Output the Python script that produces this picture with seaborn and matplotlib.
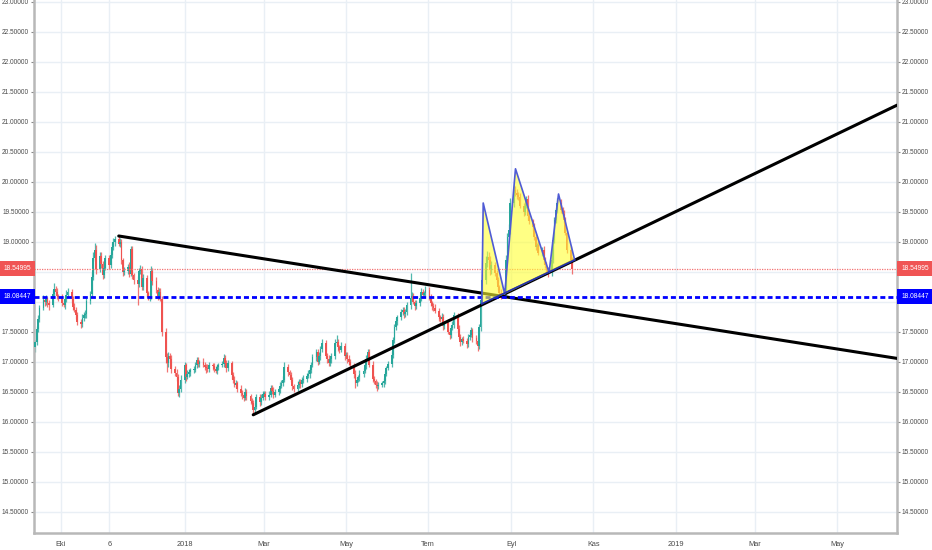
import pandas as pd
import numpy as np
import matplotlib
matplotlib.use('Agg')
import matplotlib.pyplot as plt
import matplotlib.dates as mdates
import matplotlib.transforms as mtransforms
import seaborn as sns

# daily closes, one list per month (weekdays)
closes_sep17 = [17.33, 17.55, 17.72, 17.90, 18.03, 18.00, 18.05, 17.98, 17.95, 18.13, 18.22, 18.17, 18.10, 18.08]
closes_oct17 = [17.98, 17.95, 18.05, 18.12, 18.17, 18.05, 17.92, 17.87, 17.78, 17.67, 17.63, 17.74, 17.78, 17.80,
                18.02, 18.13, 18.42, 18.73, 18.87, 18.55, 18.77, 18.63]
closes_nov17 = [18.45, 18.57, 18.73, 18.62, 18.78, 18.92, 19.00, 19.05, 18.97, 19.00, 18.70, 18.50, 18.52, 18.58,
                18.47, 18.88, 18.45, 18.37, 18.30, 18.52, 18.55, 18.25]
closes_dec17 = [18.40, 18.15, 18.08, 18.10, 18.52, 18.35, 18.20, 18.10, 18.17, 18.05, 17.50, 17.08, 16.98, 17.10,
                17.05, 16.88, 16.82, 16.75, 16.48, 16.55, 16.70]
closes_jan18 = [16.95, 16.75, 16.80, 16.83, 16.86, 16.87, 16.95, 17.03, 16.97, 17.00, 16.95, 16.92, 16.90, 16.88,
                16.95, 16.93, 16.88, 16.85, 16.92, 16.95, 16.97, 17.07, 16.98]
closes_feb18 = [16.90, 16.98, 16.78, 16.70, 16.62, 16.65, 16.55, 16.48, 16.45, 16.40, 16.50, 16.43, 16.35, 16.32,
                16.20, 16.25, 16.42, 16.33, 16.40, 16.47]
closes_mar18 = [16.47, 16.42, 16.45, 16.57, 16.52, 16.45, 16.50, 16.55, 16.60, 16.65, 16.70, 16.92, 16.83, 16.78,
                16.70, 16.60, 16.55, 16.62, 16.67, 16.63, 16.70, 16.72]
closes_apr18 = [16.77, 16.80, 16.87, 16.95, 17.08, 17.17, 17.00, 17.10, 17.22, 17.32, 17.10, 17.05, 16.98, 17.05,
                17.10, 17.32, 17.33, 17.25, 17.20, 17.27, 17.10]
closes_may18 = [17.12, 17.05, 17.00, 16.95, 16.80, 16.65, 16.70, 16.75, 16.80, 16.85, 16.95, 17.05, 17.17, 16.95,
                16.72, 16.68, 16.62, 16.60, 16.62, 16.65, 16.68, 16.80, 16.90]
closes_jun18 = [16.97, 17.12, 17.37, 17.58, 17.68, 17.75, 17.83, 17.87, 17.80, 17.83, 17.95, 18.07, 18.10, 18.00,
                17.93, 17.98, 18.07, 18.17, 18.12, 18.15, 18.20]
closes_jul18 = [18.08, 17.98, 17.93, 17.90, 17.85, 17.75, 17.72, 17.75, 17.60, 17.65, 17.50, 17.45, 17.57, 17.62,
                17.78, 17.55, 17.42, 17.33, 17.38, 17.35, 17.30, 17.42]
closes_aug18 = [17.45, 17.53, 17.40, 17.35, 17.27, 17.58, 18.03, 18.37, 18.65, 18.75, 18.70, 18.53, 18.62, 18.48,
                18.37, 18.25, 18.15, 18.12, 18.18, 18.70, 19.08, 19.20, 19.65]
closes_sep18 = [19.87, 19.82, 19.78, 19.75, 19.60, 19.50, 19.60, 19.72, 19.43, 19.35, 19.25, 19.08, 18.92, 18.95,
                18.82, 18.87, 18.70, 18.62, 18.53, 18.50]
closes_oct18 = [18.70, 19.03, 19.37, 19.53, 19.65, 19.53, 19.47, 19.37, 19.15, 18.87, 18.70, 18.55]

# wick lengths above / below the body
upper_wicks = [0.04, 0.05, 0.06, 0.05, 0.08, 0.05, 0.06, 0.04, 0.05, 0.07, 0.10, 0.05, 0.06, 0.04,
               0.05, 0.06, 0.05, 0.08, 0.06, 0.04, 0.05, 0.06, 0.04, 0.05, 0.04, 0.06, 0.05, 0.07, 0.05, 0.06, 0.08, 0.10, 0.12, 0.08, 0.06, 0.07,
               0.05, 0.06, 0.05, 0.06, 0.05, 0.07, 0.06, 0.05, 0.07, 0.06, 0.05, 0.04, 0.06, 0.05, 0.08, 0.06, 0.05, 0.04, 0.06, 0.05, 0.06, 0.05,
               0.06, 0.05, 0.04, 0.06, 0.08, 0.05, 0.06, 0.05, 0.06, 0.07, 0.05, 0.06, 0.07, 0.06, 0.05, 0.06, 0.05, 0.06, 0.05, 0.07, 0.08,
               0.05, 0.04, 0.06, 0.05, 0.04, 0.06, 0.05, 0.06, 0.05, 0.04, 0.06, 0.05, 0.04, 0.06, 0.05, 0.04, 0.05, 0.06, 0.05, 0.04, 0.05, 0.06, 0.04,
               0.05, 0.06, 0.04, 0.05, 0.06, 0.05, 0.04, 0.06, 0.05, 0.04, 0.06, 0.05, 0.04, 0.05, 0.04, 0.06, 0.05, 0.04, 0.06, 0.05,
               0.05, 0.04, 0.06, 0.05, 0.04, 0.06, 0.05, 0.04, 0.06, 0.05, 0.06, 0.08, 0.05, 0.04, 0.06, 0.05, 0.04, 0.06, 0.05, 0.04, 0.05, 0.06,
               0.05, 0.06, 0.04, 0.05, 0.06, 0.05, 0.04, 0.06, 0.05, 0.06, 0.04, 0.05, 0.06, 0.04, 0.05, 0.06, 0.12, 0.05, 0.04, 0.06, 0.05,
               0.05, 0.04, 0.06, 0.05, 0.04, 0.06, 0.05, 0.04, 0.06, 0.05, 0.04, 0.06, 0.05, 0.04, 0.06, 0.05, 0.04, 0.06, 0.05, 0.04, 0.06, 0.05, 0.04,
               0.05, 0.06, 0.05, 0.06, 0.05, 0.04, 0.06, 0.05, 0.04, 0.06, 0.05, 0.41, 0.06, 0.05, 0.04, 0.06, 0.05, 0.06, 0.05, 0.04, 0.06,
               0.05, 0.06, 0.04, 0.05, 0.06, 0.05, 0.04, 0.06, 0.05, 0.04, 0.06, 0.05, 0.04, 0.06, 0.05, 0.04, 0.06, 0.05, 0.04, 0.06, 0.05, 0.04,
               0.05, 0.06, 0.04, 0.05, 0.06, 0.05, 0.08, 0.10, 0.12, 0.10, 0.08, 0.06, 0.07, 0.05, 0.06, 0.05, 0.04, 0.06, 0.05, 0.08, 0.07, 0.10, 0.08,
               0.08, 0.06, 0.07, 0.05, 0.06, 0.05, 0.06, 0.05, 0.06, 0.05, 0.04, 0.06, 0.05, 0.04, 0.06, 0.05, 0.06, 0.05, 0.04, 0.05,
               0.05, 0.06, 0.05, 0.06, 0.08, 0.06, 0.05, 0.06, 0.05, 0.04, 0.06, 0.05]
lower_wicks = [0.08, 0.04, 0.05, 0.06, 0.04, 0.07, 0.05, 0.06, 0.08, 0.04, 0.05, 0.06, 0.05, 0.07,
               0.05, 0.04, 0.07, 0.05, 0.04, 0.06, 0.05, 0.04, 0.06, 0.05, 0.06, 0.04, 0.05, 0.04, 0.06, 0.05, 0.04, 0.06, 0.05, 0.08, 0.05, 0.06,
               0.06, 0.05, 0.04, 0.07, 0.05, 0.04, 0.05, 0.06, 0.04, 0.05, 0.06, 0.07, 0.05, 0.06, 0.05, 0.04, 0.06, 0.07, 0.35, 0.05, 0.06, 0.05,
               0.05, 0.06, 0.05, 0.07, 0.05, 0.06, 0.05, 0.06, 0.05, 0.04, 0.06, 0.10, 0.15, 0.06, 0.05, 0.07, 0.05, 0.06, 0.05, 0.06, 0.05,
               0.05, 0.06, 0.04, 0.05, 0.06, 0.05, 0.04, 0.05, 0.06, 0.05, 0.04, 0.06, 0.08, 0.05, 0.04, 0.06, 0.05, 0.04, 0.05, 0.06, 0.04, 0.05, 0.06,
               0.06, 0.05, 0.06, 0.05, 0.04, 0.06, 0.05, 0.04, 0.06, 0.05, 0.04, 0.06, 0.05, 0.06, 0.08, 0.05, 0.04, 0.06, 0.05, 0.04,
               0.04, 0.06, 0.05, 0.04, 0.06, 0.05, 0.04, 0.05, 0.06, 0.04, 0.05, 0.04, 0.06, 0.05, 0.04, 0.06, 0.05, 0.04, 0.05, 0.06, 0.04, 0.05,
               0.05, 0.04, 0.06, 0.05, 0.04, 0.06, 0.05, 0.04, 0.06, 0.05, 0.04, 0.06, 0.05, 0.04, 0.06, 0.05, 0.04, 0.06, 0.05, 0.04, 0.06,
               0.04, 0.06, 0.05, 0.04, 0.06, 0.08, 0.05, 0.04, 0.06, 0.05, 0.04, 0.06, 0.05, 0.04, 0.06, 0.05, 0.06, 0.08, 0.05, 0.04, 0.06, 0.05, 0.04,
               0.04, 0.05, 0.06, 0.05, 0.04, 0.06, 0.05, 0.04, 0.06, 0.05, 0.04, 0.06, 0.05, 0.04, 0.06, 0.05, 0.04, 0.06, 0.05, 0.04, 0.05,
               0.05, 0.04, 0.06, 0.05, 0.04, 0.06, 0.05, 0.04, 0.06, 0.05, 0.04, 0.06, 0.05, 0.04, 0.06, 0.05, 0.04, 0.06, 0.05, 0.04, 0.06, 0.05,
               0.05, 0.04, 0.06, 0.05, 0.09, 0.05, 0.06, 0.08, 0.07, 0.06, 0.05, 0.08, 0.06, 0.05, 0.06, 0.05, 0.06, 0.07, 0.05, 0.06, 0.05, 0.08, 0.06,
               0.06, 0.05, 0.06, 0.05, 0.04, 0.06, 0.05, 0.04, 0.06, 0.05, 0.06, 0.04, 0.05, 0.06, 0.04, 0.05, 0.06, 0.05, 0.06, 0.08,
               0.06, 0.05, 0.04, 0.06, 0.05, 0.04, 0.06, 0.05, 0.04, 0.06, 0.05, 0.08]
first_open = 17.25

# drawn objects on the chart
trend_down = (['2017-11-13', '2019-06-14 16:00'], [19.10, 17.06])
trend_up = (['2018-02-21', '2019-06-14 16:00'], [16.12, 21.28])
pattern_dates = ['2018-08-10', '2018-08-11', '2018-08-27', '2018-09-04', '2018-09-29', '2018-10-06', '2018-10-18']
pattern_prices = [17.97, 19.65, 18.13, 20.22, 18.49, 19.80, 18.70]
last_price = 18.54995
blue_level = 18.08447

tick_dates = ['2017-10-01', '2017-11-06', '2018-01-01', '2018-03-01', '2018-05-01', '2018-07-01',
              '2018-09-01', '2018-11-01', '2019-01-01', '2019-03-01', '2019-05-01']
tick_labels = ['Eki', '6', '2018', 'Mar', 'May', 'Tem', 'Eyl', 'Kas', '2019', 'Mar', 'May']

sns.set_style('white')
plt.rcParams['font.family'] = ['Liberation Sans', 'DejaVu Sans']


def to_num(ds):
    return np.array([mdates.date2num(pd.Timestamp(d).to_pydatetime()) for d in ds])


closes = np.array(closes_sep17 + closes_oct17 + closes_nov17 + closes_dec17 + closes_jan18 + closes_feb18
                  + closes_mar18 + closes_apr18 + closes_may18 + closes_jun18 + closes_jul18 + closes_aug18
                  + closes_sep18 + closes_oct18)
dates = pd.bdate_range('2017-09-12', periods=len(closes))
x = to_num(dates)
opens = np.concatenate([[first_open], closes[:-1]])
n = len(closes)
up_w = np.array((upper_wicks + [0.05] * n)[:n])
dn_w = np.array((lower_wicks + [0.05] * n)[:n])
highs = np.maximum(opens, closes) + up_w
lows = np.minimum(opens, closes) - dn_w
colors = np.where(closes >= opens, '#26a69a', '#ef5350')
body = closes - opens
body = np.where(np.abs(body) < 0.015, 0.015, body)

fig = plt.figure(figsize=(9.32, 5.5), dpi=100)
ax = fig.add_axes([34 / 932, 17 / 550, 863 / 932, 533 / 550])

ax.vlines(x, lows, highs, colors=colors, lw=0.9, alpha=0.8, zorder=2)
ax.bar(x, body, bottom=opens, width=1.3, color=colors, lw=0, zorder=3)

# horizontal levels
ax.axhline(last_price, color='#f47272', lw=0.9, ls=(0, (1, 1)), zorder=4)
ax.axhline(blue_level, color='#0000ff', lw=2, ls=(0, (1.8, 1.1)), zorder=6)

# trend lines
for line_dates, line_prices in [trend_down, trend_up]:
    sns.lineplot(x=to_num(line_dates), y=line_prices, color='black', lw=2.2, ax=ax, zorder=5)

# pattern
px = to_num(pattern_dates)
py = np.array(pattern_prices)
for i in (0, 2, 4):
    ax.fill([px[i], px[i + 1], px[i + 2]], [py[i], py[i + 1], py[i + 2]],
            color='#ffff33', alpha=0.6, lw=0, zorder=7)
ax.plot(px, py, color='#4f5bd5', lw=1.2, zorder=8)
ax.plot([px[0], px[-1]], [py[0], py[-1]], color='#2330b0', lw=1.2, zorder=8)

# axes styling
ax.set_xlim(to_num(['2017-09-11'])[0], to_num(['2019-06-14 16:00'])[0])
ax.set_ylim(14.15, 23.033)
yt = np.arange(14.5, 23.01, 0.5)
ax.set_yticks(yt)
# the 18.5 label sits under the last-price tag, so it is left blank
ax.set_yticklabels(['' if abs(v - 18.5) < 1e-9 else f'{v:.5f}' for v in yt])
ax.set_xticks(to_num(tick_dates))
ax.set_xticklabels(tick_labels)
ax.tick_params(axis='y', left=True, right=True, labelleft=True, labelright=True,
               length=2.5, width=0.8, color='#888888', labelsize=4.7, labelcolor='#4a4a4a', pad=1)
ax.tick_params(axis='x', length=2, width=0.8, color='#888888', labelsize=5.3, labelcolor='#4a4a4a', pad=3.5)
ax.grid(True, color='#e9eff5', lw=1)
ax.set_axisbelow(True)
for side in ['left', 'right', 'bottom']:
    ax.spines[side].set_color('#b8b8b8')
    ax.spines[side].set_linewidth(1.8)
ax.spines['top'].set_visible(False)

# price tags on both axes
tr = mtransforms.blended_transform_factory(ax.transAxes, ax.transData)
for level, fc in [(last_price, '#f05454'), (blue_level, '#0000ff')]:
    for xpos in (-0.0197, 1.0209):
        ax.text(xpos, level, f'{level:.5f}', transform=tr, ha='center', va='center', fontsize=4.8,
                color='white', clip_on=False, zorder=10,
                bbox=dict(boxstyle='square,pad=0.6', fc=fc, ec='none'))

fig.savefig('out.png', dpi=100)
